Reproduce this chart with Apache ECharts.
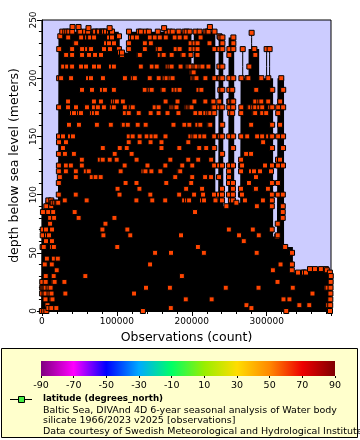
<!DOCTYPE html>
<html><head><meta charset="utf-8">
<script src="https://cdn.jsdelivr.net/npm/echarts@6/dist/echarts.min.js"></script>
<style>html,body{margin:0;padding:0;background:#fff}#c{width:360px;height:440px}</style>
</head><body><div id="c"></div>
<script>
// ---- data ----
// groups of casts: observation-index range and deepest sample (m)
const segStart    = [0, 4650, 12600, 21900, 25900, 101600, 102900, 114900, 198500, 202500, 230400, 235700, 241000, 249000, 255600, 264900, 275600, 288900, 307500, 314200, 322100, 334000, 353900, 380500];
const segEnd      = [4650, 12600, 21900, 25900, 101600, 102900, 114900, 198500, 202500, 230400, 235700, 241000, 249000, 255600, 264900, 275600, 288900, 307500, 314200, 322100, 334000, 353900, 380500, 385800];
const segMaxDepth = [88, 95, 93, 236, 240, 236, 222, 240, 205, 240, 95, 236, 90, 236, 93, 200, 225, 200, 64, 200, 55, 33, 36, 33];
// single deeper casts standing above their neighbours
const spikeObs   = [40500, 48500, 61800, 90000, 162700, 223800, 267600, 279500, 299500, 303500];
const spikeDepth = [244, 244, 243, 243, 243, 244, 225, 239, 225, 225];
// standard sampling depths of a cast (m)
const depthLevels = [0, 2.5, 5, 10, 15, 20, 25, 30, 35, 40, 45, 50, 55, 60, 65, 70, 75, 80, 85, 90, 95, 100, 105, 110, 115, 120, 125, 130, 135, 140, 145, 150, 160, 170, 175, 180, 190, 200, 210, 220, 225, 230, 235, 240];
const xTickValues = [0, 100000, 200000, 300000];
const yTickValues = [0, 50, 100, 150, 200, 250];
const colorTickValues = [-90, -70, -50, -30, -10, 10, 30, 50, 70, 90];
const obsPerCastGroup = 1330;

// ---- build casts ----
const profiles = [];
segStart.forEach((s, i) => {
  const e = segEnd[i];
  const n = Math.max(1, Math.round((e - s) / obsPerCastGroup));
  const w = (e - s) / n;
  for (let j = 0; j < n; j++) profiles.push({x0: s + j * w, x1: s + (j + 1) * w, max: segMaxDepth[i], seg: i, j: j, n: n});
});
function levelsFor(max) { const l = depthLevels.filter(d => d < max); l.push(max); return l; }
function pick(a, b) { let h = (Math.imul(a, 374761393) + Math.imul(b, 668265263)) >>> 0; h = (h ^ (h >>> 13)) >>> 0; h = Math.imul(h, 1274126177) >>> 0; return ((h ^ (h >>> 16)) >>> 0) / 4294967296; }

const lineData = [];
const markers = [];
profiles.forEach((p, g) => {
  const lv = levelsFor(p.max);
  const step = (p.x1 - p.x0) / lv.length;
  const leftN = p.j === 0 ? (p.seg > 0 ? segMaxDepth[p.seg - 1] : -1) : p.max;
  const rightN = p.j === p.n - 1 ? (p.seg < segMaxDepth.length - 1 ? segMaxDepth[p.seg + 1] : -1) : p.max;
  const edgeN = Math.min(leftN, rightN);
  lv.forEach((d, k) => {
    const x = p.x0 + k * step;
    lineData.push([x, d]);
    let show = false;
    if (k === lv.length - 1) show = (pick(g, 99) < 0.22) || p.n === 1;
    else if (d > edgeN) show = d >= 100 ? (d % 25 === 0 || pick(g, k) < 0.3) : pick(g, k) < 0.45;
    else {
      let prob;
      if (p.seg <= 2) prob = 0.14;
      else if (d >= 150) prob = 0.12;
      else if (d >= 95) prob = 0.04;
      else prob = 0.01;
      show = pick(g, k) < prob;
    }
    if (show) markers.push([x, d]);
  });
});

const spikeSeries = spikeObs.map((x0, i) => {
  const lv = levelsFor(spikeDepth[i]);
  const base = profiles.find(p => x0 >= p.x0 && x0 < p.x1);
  const local = base ? base.max : 0;
  const data = lv.map((d, k) => [x0 + k * 400 / lv.length, d]);
  data.forEach(pt => { if ((pt[1] > local && pt[1] % 25 === 0) || pt[1] === spikeDepth[i]) markers.push(pt); });
  return {type: 'line', data: data, symbol: 'none', silent: true, animation: false, z: 3,
          lineStyle: {color: '#000', width: 1}};
});

const FONT = 'DejaVu Sans';
const chart = echarts.init(document.getElementById('c'), null, {renderer: 'canvas'});
chart.setOption({
  animation: false,
  backgroundColor: '#ffffff',
  grid: [
    {left: 40, top: 20, width: 291, height: 291, show: true, backgroundColor: '#ccccff', borderColor: '#000', borderWidth: 1},
    {left: 41, top: 361, width: 294, height: 15, show: true, borderWidth: 0,
     backgroundColor: new echarts.graphic.LinearGradient(0, 0, 1, 0, [
       {offset: 0, color: '#7f007f'}, {offset: 0.111, color: '#ff00ff'}, {offset: 0.222, color: '#0000ff'},
       {offset: 0.333, color: '#00aaff'}, {offset: 0.444, color: '#00ff66'}, {offset: 0.556, color: '#99ee00'},
       {offset: 0.667, color: '#ffdd00'}, {offset: 0.778, color: '#ff8800'}, {offset: 0.889, color: '#ee0000'},
       {offset: 1, color: '#800000'}])}
  ],
  xAxis: [
    {type: 'value', gridIndex: 0, min: 0, max: 385800, interval: 100000,
     name: 'Observations (count)', nameLocation: 'middle', nameGap: 20,
     nameTextStyle: {fontFamily: FONT, fontSize: 12.5, color: '#000'},
     axisLine: {show: true, lineStyle: {color: '#000', width: 1}},
     axisTick: {show: true, length: 5, lineStyle: {color: '#000'}},
     minorTick: {show: true, splitNumber: 5, length: 3, lineStyle: {color: '#000'}},
     splitLine: {show: false}, minorSplitLine: {show: false},
     axisLabel: {fontFamily: FONT, fontSize: 9, color: '#000', margin: 6, showMaxLabel: false,
                 formatter: v => xTickValues.includes(v) ? String(v) : ''}},
    {type: 'value', gridIndex: 1, min: -90, max: 90, interval: 20,
     axisLine: {show: false}, axisTick: {show: true, length: 2, lineStyle: {color: '#000'}},
     splitLine: {show: false},
     axisLabel: {fontFamily: FONT, fontSize: 9.5, color: '#000', margin: 5,
                 formatter: v => colorTickValues.includes(v) ? String(v) : ''}}
  ],
  yAxis: [
    {type: 'value', gridIndex: 0, min: 0, max: 250, interval: 50,
     name: 'depth below sea level (meters)', nameLocation: 'middle', nameGap: 15,
     nameTextStyle: {fontFamily: FONT, fontSize: 12.5, color: '#000'},
     axisLine: {show: true, lineStyle: {color: '#000', width: 1}},
     axisTick: {show: true, length: 5, lineStyle: {color: '#000'}},
     minorTick: {show: true, splitNumber: 5, length: 3, lineStyle: {color: '#000'}},
     splitLine: {show: false}, minorSplitLine: {show: false},
     axisLabel: {fontFamily: FONT, fontSize: 9, color: '#000', margin: 4, rotate: 90,
                 formatter: v => yTickValues.includes(v) ? String(v) : ''}},
    {type: 'value', gridIndex: 1, show: false, min: 0, max: 1}
  ],
  series: [
    {type: 'line', data: lineData, symbol: 'none', silent: true, animation: false, z: 2,
     lineStyle: {color: '#000', width: 1.6}},
    ...spikeSeries,
    {type: 'scatter', data: markers, symbol: 'rect', symbolSize: 5, large: false, silent: true, z: 4,
     itemStyle: {color: '#ff4500', borderColor: '#000', borderWidth: 1, opacity: 1}}
  ],
  graphic: [
    {type: 'rect', z: -1, shape: {x: 1.5, y: 348.5, width: 356, height: 89}, style: {fill: '#ffffcc', stroke: '#000', lineWidth: 1}},
    {type: 'line', shape: {x1: 10, y1: 399.5, x2: 32, y2: 399.5}, style: {stroke: '#000', lineWidth: 1}},
    {type: 'rect', shape: {x: 18.5, y: 396.5, width: 6, height: 6}, style: {fill: '#44ee44', stroke: '#000', lineWidth: 1}},
    {type: 'text', style: {text: 'latitude (degrees_north)', x: 43, y: 399, fontFamily: FONT, fontSize: 8.7, fontWeight: 'bold', fill: '#000', verticalAlign: 'middle'}},
    {type: 'text', style: {text: 'Baltic Sea, DIVAnd 4D 6-year seasonal analysis of Water body', x: 43, y: 410.5, fontFamily: FONT, fontSize: 9.5, fill: '#000', verticalAlign: 'middle'}},
    {type: 'text', style: {text: 'silicate 1966/2023 v2025 [observations]', x: 43, y: 421, fontFamily: FONT, fontSize: 9.5, fill: '#000', verticalAlign: 'middle'}},
    {type: 'text', style: {text: 'Data courtesy of Swedish Meteorological and Hydrological Institute', x: 43, y: 431.5, fontFamily: FONT, fontSize: 9.5, fill: '#000', verticalAlign: 'middle'}}
  ]
});
</script></body></html>
